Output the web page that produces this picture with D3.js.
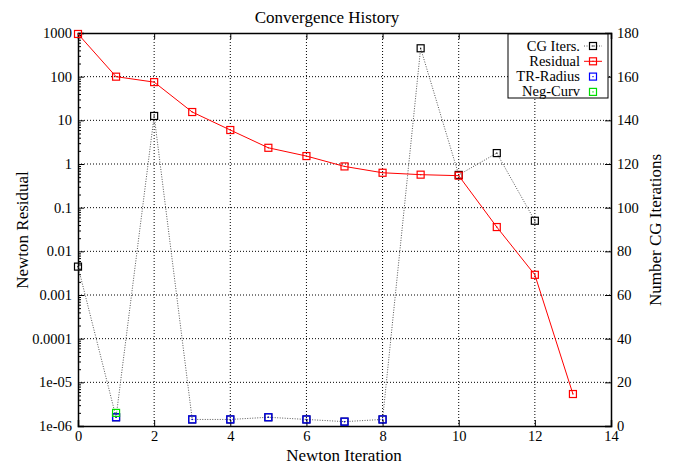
<!DOCTYPE html>
<html><head><meta charset="utf-8">
<script src="https://cdn.jsdelivr.net/npm/d3@7"></script>
<style>body{margin:0;background:#fff}svg{display:block}text{font-family:"Liberation Serif","Times New Roman",serif;fill:#000}</style>
</head><body>
<script>
const iterations = [0,1,2,3,4,5,6,7,8,9,10,11,12,13];
const residual = [950,100,75,15.5,6.0,2.35,1.52,0.88,0.63,0.57,0.54,0.036,0.0029,0.0000054];
const cgIters = [73,4,142,3,3,4,3,2,3,173,115,125,94];
const trRadiusIdx = [1,3,4,5,6,7,8];
const trRadiusVal = [4,3,3,4,3,2,3];
const negCurvIdx = [1];
const negCurvVal = [6];
const xTicks = [0,2,4,6,8,10,12,14];
const yTicks = [1000,100,10,1,0.1,0.01,0.001,0.0001,0.00001,0.000001];
const yTickLabels = ["1000","100","10","1","0.1","0.01","0.001","0.0001","1e-05","1e-06"];
const y2Ticks = [0,20,40,60,80,100,120,140,160,180];

const W=673,H=464;
const m={l:78,r:611,t:33,b:426};
const svg=d3.select("body").append("svg").attr("width",W).attr("height",H);
const x=d3.scaleLinear().domain([0,14]).range([m.l,m.r]);
const y=d3.scaleLog().domain([1e-6,1000]).range([m.b,m.t]);
const y2=d3.scaleLinear().domain([0,180]).range([m.b,m.t]);

// grid
const g=svg.append("g");
xTicks.slice(1,-1).forEach(t=>g.append("line").attr("x1",x(t)).attr("x2",x(t)).attr("y1",m.t).attr("y2",m.b)
  .attr("stroke","#000").attr("stroke-width",1).attr("stroke-dasharray","1,2"));
yTicks.slice(1,-1).forEach(t=>g.append("line").attr("x1",m.l).attr("x2",m.r).attr("y1",y(t)).attr("y2",y(t))
  .attr("stroke","#000").attr("stroke-width",1).attr("stroke-dasharray","1,2"));

// axes (ticks inward)
const ax=svg.append("g").attr("transform",`translate(0,${m.b})`).call(d3.axisBottom(x).tickValues(xTicks).tickSize(-6).tickPadding(5));
const axT=svg.append("g").attr("transform",`translate(0,${m.t})`).call(d3.axisTop(x).tickValues(xTicks).tickSize(-6).tickFormat(""));
const ay=svg.append("g").attr("transform",`translate(${m.l},0)`).call(d3.axisLeft(y).tickValues(yTicks).tickFormat((d,i)=>yTickLabels[i]).tickSize(-6).tickPadding(6));
const minor=[];
for(let e=-6;e<3;e++) for(let k=2;k<10;k++) minor.push(k*Math.pow(10,e));
svg.append("g").attr("transform",`translate(${m.l},0)`).call(d3.axisLeft(y).tickValues(minor).tickFormat("").tickSize(-3)).select(".domain").remove();
const ay2=svg.append("g").attr("transform",`translate(${m.r},0)`).call(d3.axisRight(y2).tickValues(y2Ticks).tickSize(-6).tickPadding(6));
[ax,axT,ay,ay2].forEach(a=>{a.selectAll("text").attr("font-size",14.5).attr("font-family","Liberation Serif");a.select(".domain").attr("stroke-width",1.5);});
svg.selectAll(".tick line").attr("stroke","#000");

// CG iters (black dotted)
const cgPts=cgIters.map((v,i)=>[x(iterations[i]),y2(v)]);
svg.append("path").attr("d",d3.line()(cgPts)).attr("fill","none").attr("stroke","#555").attr("stroke-width",1).attr("stroke-dasharray","1,1.5");
function marker(sel,px,py,col){
  sel.append("rect").attr("x",px-3.5).attr("y",py-3.5).attr("width",7).attr("height",7).attr("fill","none").attr("stroke",col).attr("stroke-width",1.2);
  sel.append("rect").attr("x",px-0.6).attr("y",py-0.6).attr("width",1.2).attr("height",1.2).attr("fill",col);
}
cgPts.forEach(p=>marker(svg,p[0],p[1],"#000"));
// residual
const resPts=residual.map((v,i)=>[x(iterations[i]),y(v)]);
svg.append("path").attr("d",d3.line()(resPts)).attr("fill","none").attr("stroke","#ff0000").attr("stroke-width",1);
resPts.forEach(p=>marker(svg,p[0],p[1],"#ff0000"));
trRadiusIdx.forEach((t,i)=>marker(svg,x(t),y2(trRadiusVal[i]),"#0000ff"));
negCurvIdx.forEach((t,i)=>marker(svg,x(t),y2(negCurvVal[i]),"#00dd00"));

// legend
const lg=svg.append("g");
lg.append("rect").attr("x",508).attr("y",34).attr("width",100).attr("height",64).attr("fill","#fff").attr("stroke","#000").attr("stroke-width",1);
const items=[["CG Iters.","#000",true,"dot"],["Residual","#ff0000",true,"solid"],["TR-Radius","#0000ff",false],["Neg-Curv","#00dd00",false]];
items.forEach((it,i)=>{
  const yy=46+i*15.3;
  lg.append("text").attr("x",580).attr("y",yy+4.5).attr("text-anchor","end").attr("font-size",14.5).text(it[0]);
  if(it[2]){
    const l=lg.append("line").attr("x1",584).attr("x2",602).attr("y1",yy).attr("y2",yy).attr("stroke",it[1]==="#000"?"#555":it[1]).attr("stroke-width",1);
    if(it[3]==="dot") l.attr("stroke-dasharray","1,1.5");
  }
  marker(lg,593,yy,it[1]);
});

// titles
svg.append("text").attr("x",327).attr("y",23).attr("text-anchor","middle").attr("font-size",17).text("Convergence History");
svg.append("text").attr("x",344).attr("y",461).attr("text-anchor","middle").attr("font-size",17).text("Newton Iteration");
svg.append("text").attr("transform","translate(28,230) rotate(-90)").attr("text-anchor","middle").attr("font-size",17).text("Newton Residual");
svg.append("text").attr("transform","translate(661,230) rotate(-90)").attr("text-anchor","middle").attr("font-size",17).text("Number CG Iterations");
</script>
</body></html>
